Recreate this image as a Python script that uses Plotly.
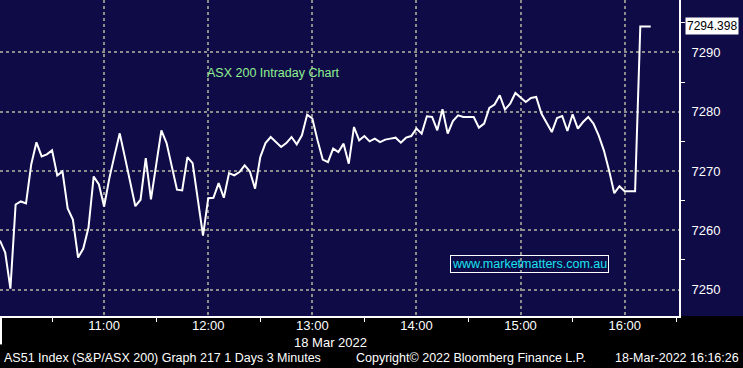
import pandas as pd
import plotly.graph_objects as go

# ---- data ----
session_start = "2022-03-18 10:00"
bar_minutes = 3
index_values = [
    7258.28, 7256.25, 7250.17, 7264.36, 7264.87, 7264.53, 7271.12, 7274.84, 7272.47, 7272.81,
    7273.49, 7269.26, 7269.94, 7263.69, 7261.83, 7255.41, 7256.93, 7260.48, 7269.09, 7267.74,
    7264.02, 7268.76, 7272.64, 7276.36, 7272.31, 7268.25, 7264.07, 7265.16, 7272.19, 7265.21,
    7271.04, 7276.87, 7274.72, 7270.78, 7266.85, 7266.73, 7272.36, 7271.34, 7265.21, 7259.12,
    7265.43, 7265.49, 7267.96, 7265.49, 7269.65, 7269.26, 7269.82, 7270.95, 7269.94, 7267.02,
    7272.36, 7274.72, 7275.74, 7274.89, 7274.05, 7274.72, 7275.74, 7274.50, 7276.02, 7279.52,
    7278.85, 7275.18, 7271.92, 7271.51, 7273.78, 7273.20, 7274.62, 7271.24, 7277.43, 7275.18,
    7275.90, 7275.01, 7275.47, 7274.89, 7275.30, 7275.47, 7275.63, 7274.79, 7275.63, 7275.90,
    7277.16, 7276.31, 7279.23, 7279.12, 7276.87, 7280.42, 7276.31, 7278.44, 7279.40, 7279.12,
    7279.12, 7279.12, 7277.32, 7278.00, 7280.64, 7281.21, 7282.78, 7280.37, 7281.38, 7283.17,
    7282.39, 7281.65, 7282.33, 7282.50, 7279.69, 7278.17, 7276.58, 7278.95, 7279.29, 7276.75,
    7279.57, 7277.16, 7278.27, 7279.12, 7278.00, 7276.02, 7273.49, 7270.11, 7266.27, 7267.45,
    7266.61,
]
close_times = ["2022-03-18 16:06", "2022-03-18 16:09", "2022-03-18 16:15"]
close_values = [7266.61, 7294.398, 7294.398]
last_value = 7294.398

y_ticks = [7250, 7260, 7270, 7280, 7290]
y_minor = [7255, 7265, 7275, 7285, 7295]
x_ticks = ["2022-03-18 10:00", "2022-03-18 11:00", "2022-03-18 12:00", "2022-03-18 13:00",
           "2022-03-18 14:00", "2022-03-18 15:00", "2022-03-18 16:00"]
x_tick_text = ["", "11:00", "12:00", "13:00", "14:00", "15:00", "16:00"]
x_minor = ["2022-03-18 10:30", "2022-03-18 11:30", "2022-03-18 12:30", "2022-03-18 13:30",
           "2022-03-18 14:30", "2022-03-18 15:30", "2022-03-18 16:30"]

title_text = "ASX 200 Intraday Chart"
watermark = "www.marketmatters.com.au"
date_text = "18 Mar 2022"
footer_left = "AS51 Index (S&P/ASX 200) Graph 217 1 Days 3 Minutes"
footer_mid = "Copyright\u00a9 2022 Bloomberg Finance L.P."
footer_right = "18-Mar-2022 16:16:26"

# ---- build ----
times = list(pd.date_range(session_start, periods=len(index_values), freq=f"{bar_minutes}min"))
times += list(pd.to_datetime(close_times))
values = index_values + close_values

NAVY = "#0f0b47"
FONT = "Liberation Sans, Arial, sans-serif"

fig = go.Figure()
fig.add_trace(go.Scatter(x=times, y=values, mode="lines",
                         line=dict(color="white", width=2), hoverinfo="skip",
                         showlegend=False))
# tick pointers on right axis
fig.add_trace(go.Scatter(x=[pd.Timestamp("2022-03-18 16:33:40")] * len(y_ticks), y=y_ticks,
                         mode="markers", marker=dict(symbol="triangle-right", size=8, color="white"),
                         cliponaxis=False, hoverinfo="skip", showlegend=False))
# small pointer on the last-value box
fig.add_trace(go.Scatter(x=[pd.Timestamp("2022-03-18 16:33:20")], y=[last_value], mode="markers",
                         marker=dict(symbol="triangle-left", size=10, color="white"),
                         cliponaxis=False, hoverinfo="skip", showlegend=False))

fig.update_layout(
    width=743, height=368,
    margin=dict(l=0, r=64, t=0, b=52, autoexpand=False),
    paper_bgcolor="black", plot_bgcolor=NAVY,
    font=dict(family=FONT, color="white", size=13),
    xaxis=dict(range=["2022-03-18 10:00:00", "2022-03-18 16:31:18"], automargin=False,
               tickvals=x_ticks, ticktext=x_tick_text, ticks="",
               ticklabelstandoff=-4,
               showgrid=True, gridcolor="#8c8c8c", griddash="dot", gridwidth=1.5,
               showline=True, linecolor="white", linewidth=2, zeroline=False,
               tickfont=dict(family=FONT, size=13, color="white"),
               minor=dict(tickmode="array", tickvals=x_minor, ticks="outside", ticklen=4,
                          tickcolor="white", tickwidth=1, showgrid=False)),
    yaxis=dict(range=[7245.55, 7298.85], side="right", automargin=False,
               tickvals=y_ticks, ticks="outside", ticklen=8, tickcolor="rgba(0,0,0,0)",
               showgrid=True, gridcolor="#8c8c8c", griddash="dot", gridwidth=1.5,
               showline=True, linecolor="white", linewidth=2, zeroline=False,
               tickfont=dict(family=FONT, size=13, color="white"),
               minor=dict(tickmode="array", tickvals=y_minor, ticks="outside", ticklen=4,
                          tickcolor="white", tickwidth=1, showgrid=False)),
    shapes=[
        dict(type="rect", xref="paper", yref="paper", x0=1, x1=1.2, y0=0, y1=1,
             fillcolor=NAVY, line=dict(width=0), layer="below"),
        dict(type="line", xref="paper", yref="paper", x0=0.0015, x1=0.0015, y0=0, y1=-0.09,
             line=dict(color="white", width=2)),
    ],
    annotations=[
        dict(text=title_text, xref="paper", yref="paper", x=205 / 679, y=1 - 73 / 316,
             xanchor="left", yanchor="middle", showarrow=False,
             font=dict(family=FONT, size=12.5, color="#8ff08f")),
        dict(text=watermark, xref="paper", yref="paper", x=529.5 / 679, y=1 - 263.5 / 316,
             xanchor="center", yanchor="middle", showarrow=False,
             font=dict(family=FONT, size=12.5, color="#19e3f0"),
             bordercolor="white", borderwidth=1, borderpad=1),
        dict(text=f"{last_value:.3f}", xref="paper", yref="y", x=1, y=last_value,
             xanchor="left", yanchor="middle", xshift=6, showarrow=False,
             font=dict(family=FONT, size=12, color="black"), bgcolor="white",
             borderpad=1),
        dict(text=date_text, xref="paper", yref="paper", x=330 / 679, y=-(342 - 316) / 316,
             xanchor="center", yanchor="middle", showarrow=False,
             font=dict(family=FONT, size=13, color="white")),
        dict(text=footer_left, xref="paper", yref="paper", x=2 / 679, y=-(358 - 316) / 316,
             xanchor="left", yanchor="middle", showarrow=False,
             font=dict(family=FONT, size=12.5, color="white")),
        dict(text=footer_mid, xref="paper", yref="paper", x=471 / 679, y=-(358 - 316) / 316,
             xanchor="center", yanchor="middle", showarrow=False,
             font=dict(family=FONT, size=12.5, color="white")),
        dict(text=footer_right, xref="paper", yref="paper", x=741 / 679, y=-(358 - 316) / 316,
             xanchor="right", yanchor="middle", showarrow=False,
             font=dict(family=FONT, size=12.5, color="white")),
    ],
)

fig.write_html("out.html", config={"displayModeBar": False},
               post_script="document.body.style.margin='0';document.body.style.background='black';")
